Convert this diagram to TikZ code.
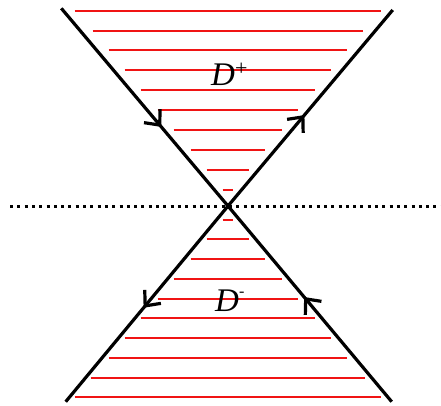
\documentclass[tikz,border=0pt]{standalone}
\usepackage{fontspec}
\setmainfont{Liberation Serif}
\usetikzlibrary{arrows.meta,decorations.markings}
\tikzset{
  edge/.style={line width=3.2bp,black},
  hatch/.style={color={rgb,255:red,240;green,20;blue,20},line width=2bp},
  barb/.style={postaction={decorate},decoration={markings,
      mark=at position #1 with {\arrow{Straight Barb[length=12bp,width=21bp,line width=3.2bp]}}}},
  axis/.style={line width=3bp,dash pattern=on 3bp off 4.3bp},
  lbl/.style={inner sep=0pt,anchor=base west}
}
\begin{document}
\begin{tikzpicture}[x=1bp,y=-1bp]
\useasboundingbox (0,0) rectangle (441,405);
% hatching, upper cone
\foreach \yy/\hw in {190/5,170/21,150/37,130/54,110/70,90/87,70/103,50/119,31/135,11/153}
  {\draw[hatch] (227.5-\hw,\yy) -- (227.5+\hw,\yy);}
% hatching, lower cone
\foreach \yy/\hw in {220/5,239/21,259/37,279/54,299/70,318/87,338/103,358/119,378/137,397/153}
  {\draw[hatch] (227.5-\hw,\yy) -- (227.5+\hw,\yy);}
% dotted line
\coordinate (L) at (10,206);
\coordinate (R) at (441,206);
\draw[axis] (L) -- (R);
% cone edges
\coordinate (O) at (228,206);
\coordinate (TL) at (61.3,8.3);
\coordinate (TR) at (392.7,10);
\coordinate (BL) at (65.7,401.7);
\coordinate (BR) at (391.7,401.7);
\draw[edge,barb=0.60] (TL) -- (O);
\draw[edge,barb=0.464] (O) -- (TR);
\draw[edge,barb=0.52] (O) -- (BL);
\draw[edge,barb=0.535] (BR) -- (O);
% labels
\node[lbl] (Dp) at (211,85) {\fontsize{33bp}{33bp}\selectfont\textit{D}\raisebox{10bp}{\fontsize{22bp}{22bp}\selectfont +}};
\node[lbl] (Dm) at (215,311) {\fontsize{33bp}{33bp}\selectfont\textit{D}\raisebox{15bp}{\fontsize{16bp}{16bp}\selectfont -}};
\end{tikzpicture}
\end{document}
